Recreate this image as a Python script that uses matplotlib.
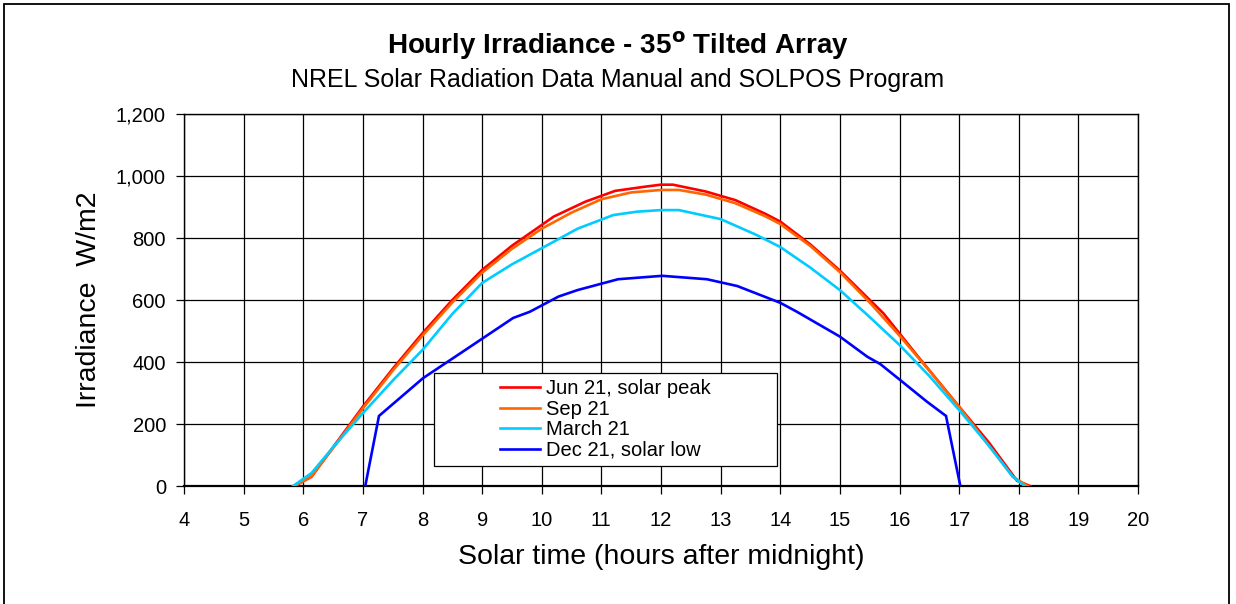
import matplotlib
matplotlib.use("Agg")
import matplotlib.pyplot as plt
from matplotlib.patches import Rectangle
from matplotlib.ticker import FuncFormatter, MultipleLocator

plt.rcParams['font.family'] = ['Liberation Sans', 'DejaVu Sans']

# ---- data ----
jun_x = [5.86, 6.14, 6.5, 7.0, 7.5, 8.0, 8.5, 9.0, 9.5, 10.0, 10.2, 10.73, 11.23, 11.75,
         12.0, 12.2, 12.75, 13.25, 13.75, 14.0, 14.5, 15.0, 15.73, 16.3, 17.0, 17.5, 17.86, 17.97, 18.19]
jun_y = [0, 30, 125, 256, 378, 493, 600, 697, 775, 842, 869, 917, 952, 966,
         972, 972, 950, 922, 878, 853, 780, 695, 557, 420, 256, 140, 46, 17, 0]

sep_x = [5.86, 6.14, 6.5, 7.0, 7.5, 8.0, 8.5, 9.0, 9.5, 10.0, 10.5, 11.0, 11.5,
         12.0, 12.3, 12.75, 13.25, 13.75, 14.0, 14.5, 15.0, 15.5, 16.0, 16.5, 17.0, 17.5, 17.9, 18.15]
sep_y = [0, 32, 122, 250, 372, 485, 592, 688, 765, 830, 882, 925, 947,
         955, 955, 940, 912, 870, 845, 775, 690, 592, 485, 372, 255, 130, 30, 0]

mar_x = [5.83, 6.14, 6.5, 7.0, 7.5, 8.0, 8.5, 9.0, 9.5, 10.0, 10.6, 11.2, 11.6, 12.0, 12.3,
         13.0, 13.6, 14.0, 14.5, 15.0, 15.5, 16.0, 16.5, 17.0, 17.5, 17.9, 18.1]
mar_y = [0, 42, 125, 235, 340, 439, 555, 655, 715, 767, 830, 874, 885, 890, 890,
         861, 810, 771, 705, 632, 545, 455, 355, 245, 130, 30, 0]

dec_x = [7.04, 7.27, 8.01, 8.72, 9.52, 9.8, 10.28, 10.6, 11.28, 12.02, 12.77, 13.28, 14.0,
         14.28, 15.0, 15.46, 15.68, 16.01, 16.46, 16.78, 17.02]
dec_y = [0, 226, 348, 439, 542, 562, 611, 632, 667, 678, 667, 645, 591,
         562, 482, 417, 393, 342, 272, 226, 0]

series = [
    ("Jun 21, solar peak", jun_x, jun_y, "#FF0000"),
    ("Sep 21", sep_x, sep_y, "#FF6600"),
    ("March 21", mar_x, mar_y, "#00CCFF"),
    ("Dec 21, solar low", dec_x, dec_y, "#0000FF"),
]

W, H = 1236, 604
fig = plt.figure(figsize=(W/100, H/100), dpi=100)
ax = fig.add_axes([184/W, 1 - 486/H, (1138-184)/W, (486-114)/H])

for label, xs, ys, c in series:
    ax.plot(xs, ys, color=c, lw=1.9, label=label, solid_joinstyle='miter', zorder=3)

ax.set_xlim(4, 20)
ax.set_ylim(0, 1200)
ax.xaxis.set_major_locator(MultipleLocator(1))
ax.yaxis.set_major_locator(MultipleLocator(200))
ax.yaxis.set_major_formatter(FuncFormatter(lambda v, p: f"{int(v):,}"))
ax.grid(True, color='black', lw=0.9)
ax.set_axisbelow(True)
ax.tick_params(axis='both', direction='out', length=6, width=0.9, labelsize=14.5, colors='black')
ax.tick_params(axis='x', pad=12)
ax.tick_params(axis='y', pad=7)
for s in ax.spines.values():
    s.set_linewidth(1.0)
    s.set_color('black')
ax.spines['bottom'].set_linewidth(1.6)

ax.set_xlabel("Solar time (hours after midnight)", fontsize=20.5, labelpad=10)
ax.set_ylabel("Irradiance  W/m2", fontsize=20.5, labelpad=10)

# legend: frame drawn separately, content centred in it
bx0, bx1, by0, by1 = 434, 777, 373, 466
ax.add_patch(Rectangle(((bx0-184)/954, (486-by1)/372), (bx1-bx0)/954, (by1-by0)/372,
                       transform=ax.transAxes, facecolor='white', edgecolor='black', lw=0.9, zorder=4))
leg = ax.legend(loc='center', bbox_to_anchor=(((bx0+bx1)/2-184)/954, (486-(by0+by1)/2)/372),
                fontsize=14.5, frameon=False, handlelength=2.0, handletextpad=0.3,
                labelspacing=0.07, borderpad=0, borderaxespad=0)
leg.set_zorder(5)

fig.text(0.5, 1 - 46/H, r"Hourly Irradiance - 35$^{\mathbf{o}}$ Tilted Array", ha='center', va='center',
         fontsize=20, fontweight='bold')
fig.text(0.5, 1 - 80/H, "NREL Solar Radiation Data Manual and SOLPOS Program", ha='center', va='center',
         fontsize=18)

fig.patches.append(Rectangle((4/W, -0.05), (1229-4)/W, 1.05 - 4/H, transform=fig.transFigure,
                             fill=False, edgecolor='black', lw=1.3))

fig.savefig("out.png", dpi=100, facecolor='white')
